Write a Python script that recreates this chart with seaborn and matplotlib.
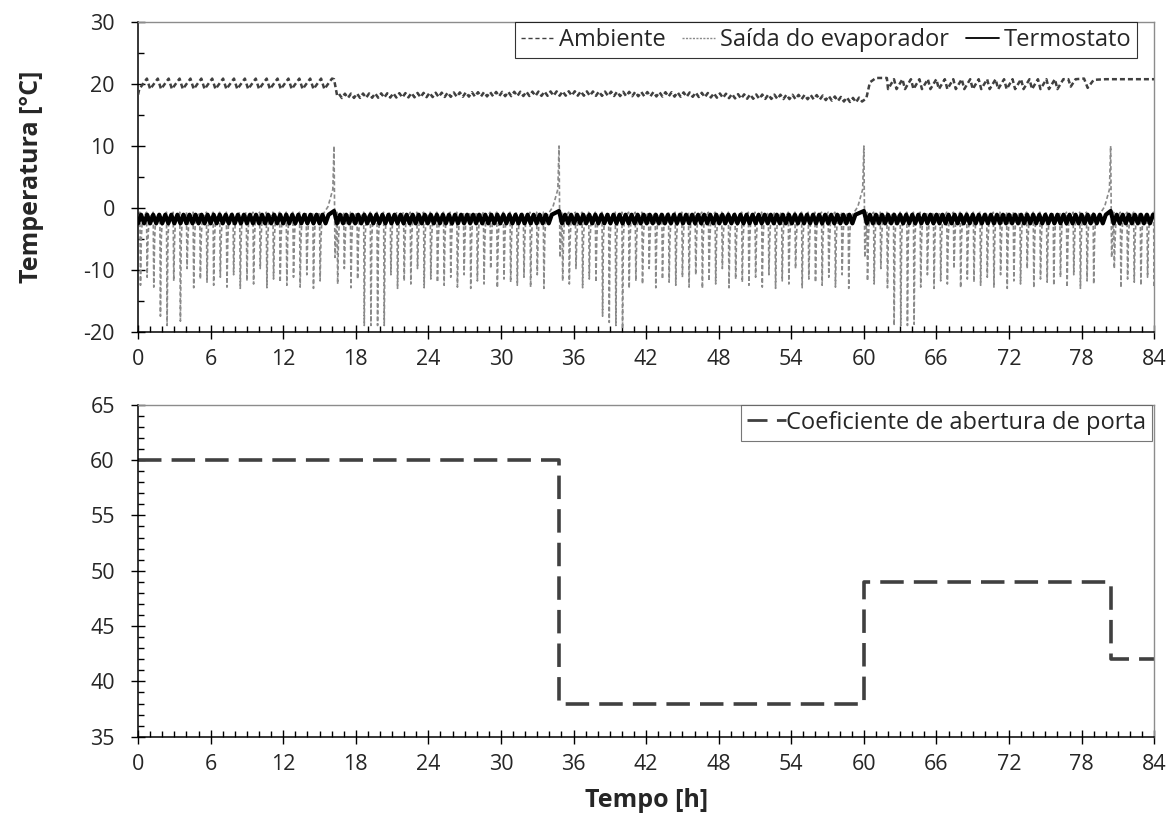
import numpy as np
import pandas as pd
import matplotlib
matplotlib.use("Agg")
import matplotlib.pyplot as plt
import seaborn as sns
from matplotlib.ticker import MultipleLocator
from matplotlib.lines import Line2D

# ---------------- data ----------------
# defrost events (h) -> evaporator spike / thermostat bump
defrost_h = [16.2, 34.8, 60.0, 80.4]

# Termostato: triangle oscillation between these levels
thermo_period_h = 0.5
thermo_high = -1.1
thermo_low = -2.5
thermo_defrost_peak = -0.5

# Saída do evaporador: each compressor cycle dips from top to a minimum
evap_period_h = 0.55
evap_top = -0.7
evap_cycle_minima = [-12.5, -11.2, -12.8, -10.8, -13.0, -11.8, -12.3, -9.8, -12.9, -11.5, -12.0]
evap_deep_times = [2.0, 2.6, 3.5, 18.9, 19.4, 19.9, 20.4, 38.4, 38.9, 39.4, 39.9, 62.6, 63.1, 63.6, 64.1]
evap_deep_values = [-17.5, -19.0, -18.3, -19.0, -19.0, -19.0, -19.0, -17.5, -18.5, -19.0, -19.5, -19.0, -19.0, -19.0, -18.8]
evap_defrost_peak = 10.0

# Ambiente: sawtooth segments (start, end, period, low, high)
amb_saw_segments = [(0.1, 16.2, 0.9, 19.2, 20.9), (62.0, 76.6, 0.7, 19.2, 20.8)]
# Ambiente middle part: baseline levels and small oscillation
amb_mid_times = [16.6, 22.0, 30.0, 36.0, 46.0, 50.0, 56.0, 59.3, 60.1]
amb_mid_base = [18.1, 18.2, 18.4, 18.5, 18.3, 18.0, 17.9, 17.4, 17.6]
amb_mid_period_h = 0.5
amb_mid_amp = 0.35
# Ambiente transitions and end (explicit points)
amb_start_t = [0.0]
amb_start_v = [18.3]
amb_drop_t = [16.2, 16.45]
amb_drop_v = [20.8, 18.2]
amb_rise_t = [60.2, 60.5, 61.0, 61.9]
amb_rise_v = [17.7, 20.3, 21.0, 21.0]
amb_end_t = [76.9, 77.1, 77.5, 78.2, 78.5, 79.0, 80.0, 84.0]
amb_end_v = [20.8, 19.6, 20.8, 20.9, 19.4, 20.7, 20.8, 20.8]

# Coeficiente de abertura de porta (step)
door_t = [0.0, 34.8, 60.0, 80.4, 84.0]
door_v = [60, 38, 49, 42, 42]

# ---------------- build series from the read values ----------------
def segments_between(events, t_end=84.0, gap_before=0.0, gap_after=0.0):
    bounds = [0.0] + list(events) + [t_end]
    segs = []
    for i in range(len(bounds) - 1):
        a = bounds[i] + (gap_after if i > 0 else 0.0)
        b = bounds[i + 1] - (gap_before if i < len(bounds) - 2 else 0.0)
        segs.append((a, b))
    return segs

# Termostato
tt, tv = [], []
for a, b in segments_between(defrost_h, gap_before=0.5, gap_after=0.25):
    c = a
    while c < b:
        tt += [c, c + thermo_period_h / 2]
        tv += [thermo_low, thermo_high]
        c += thermo_period_h
    if b < 83.9:
        tt += [b + 0.5]
        tv += [thermo_defrost_peak]
therm = pd.DataFrame({"t": tt, "v": tv}).sort_values("t")

# Evaporador
et, ev = [0.0], [-1.0]
k = 0
for i, (a, b) in enumerate(segments_between(defrost_h, gap_before=1.0, gap_after=0.1)):
    c = a + 0.15
    while c < b:
        mn = evap_cycle_minima[k % len(evap_cycle_minima)]
        for dt_, dv_ in zip(evap_deep_times, evap_deep_values):
            if abs(dt_ - c) < evap_period_h / 2:
                mn = dv_
        et += [c, c + 0.05, c + 0.12, c + 0.2]
        ev += [evap_top, mn, -5.0, -1.8]
        c += evap_period_h
        k += 1
    if i < len(defrost_h):
        d = defrost_h[i]
        et += [d - 0.9, d - 0.5, d - 0.1, d, d + 0.08]
        ev += [-1.0, 0.2, 3.0, evap_defrost_peak, -8.0]
evap = pd.DataFrame({"t": et, "v": ev}).sort_values("t")

# Ambiente
at, av = list(amb_start_t), list(amb_start_v)
for (a, b, p, lo, hi) in amb_saw_segments:
    c = a
    while c < b:
        at += [c, c + 0.7 * p]
        av += [lo, hi]
        c += p
c = amb_mid_times[0]
sgn = 1
while c < amb_mid_times[-1]:
    at.append(c)
    av.append(np.interp(c, amb_mid_times, amb_mid_base) + sgn * amb_mid_amp)
    sgn = -sgn
    c += amb_mid_period_h / 2
at += amb_drop_t + amb_rise_t + amb_end_t
av += amb_drop_v + amb_rise_v + amb_end_v
amb = pd.DataFrame({"t": at, "v": av}).sort_values("t")

door = pd.DataFrame({"t": door_t, "v": door_v})

# ---------------- plotting ----------------
sns.set_style("ticks")
plt.rcParams["font.family"] = ["Open Sans", "DejaVu Sans"]
plt.rcParams["axes.unicode_minus"] = False

fig = plt.figure(figsize=(11.7, 8.25), dpi=100)
ax1 = fig.add_axes([0.118, 0.598, 0.8685, 0.375])
ax2 = fig.add_axes([0.118, 0.107, 0.8685, 0.4024])

sns.lineplot(data=evap, x="t", y="v", ax=ax1, estimator=None, sort=False,
             color="#8a8a8a", linewidth=1.2, linestyle=(0, (2.5, 1.5)), zorder=2)
sns.lineplot(data=amb, x="t", y="v", ax=ax1, estimator=None, sort=False,
             color="#404040", linewidth=1.8, linestyle=(0, (2.0, 1.2)), zorder=3)
sns.lineplot(data=therm, x="t", y="v", ax=ax1, estimator=None, sort=False,
             color="black", linewidth=3.0, zorder=4)

sns.lineplot(data=door, x="t", y="v", ax=ax2, estimator=None, sort=False,
             drawstyle="steps-post", color="#404040", linewidth=2.6,
             linestyle=(0, (6.5, 2.8)))

ax1.set_xlim(0, 84)
ax1.set_ylim(-20, 30)
ax2.set_xlim(0, 84)
ax2.set_ylim(35, 65)

for ax, ymaj, ymin in [(ax1, 10, 5), (ax2, 5, 1)]:
    ax.xaxis.set_major_locator(MultipleLocator(6))
    ax.xaxis.set_minor_locator(MultipleLocator(1))
    ax.yaxis.set_major_locator(MultipleLocator(ymaj))
    ax.yaxis.set_minor_locator(MultipleLocator(ymin))
    ax.tick_params(which="major", direction="inout", length=9.5, width=1.0,
                   labelsize=15.5, color="black")
    ax.tick_params(axis="x", which="major", pad=8)
    ax.tick_params(axis="y", which="major", pad=12)
    ax.tick_params(which="minor", direction="in", length=4.5, width=1.0, color="black")
    for s in ["left", "bottom"]:
        ax.spines[s].set_color("black")
        ax.spines[s].set_linewidth(1.1)
    for s in ["top", "right"]:
        ax.spines[s].set_color("#8c8c8c")
        ax.spines[s].set_linewidth(1.0)
    ax.set_xlabel("")
    ax.set_ylabel("")

ax1.set_ylabel("Temperatura [°C]", fontsize=18, fontweight="bold", labelpad=28)
ax2.set_xlabel("Tempo [h]", fontsize=18, fontweight="bold", labelpad=9)

h1 = [Line2D([], [], color="#404040", lw=1.0, linestyle=(0, (3, 2))),
      Line2D([], [], color="#8a8a8a", lw=1.0, linestyle=(0, (1.5, 1))),
      Line2D([], [], color="black", lw=1.3)]
leg1 = ax1.legend(h1, ["Ambiente", "Saída do evaporador", "Termostato"], ncol=3,
                  loc="upper right", bbox_to_anchor=(0.983, 1.0), borderaxespad=0.0,
                  fontsize=17, frameon=True, fancybox=False, handlelength=1.4,
                  handletextpad=0.2, columnspacing=0.7, borderpad=0.25)
leg1.get_frame().set_edgecolor("black")
leg1.get_frame().set_linewidth(0.8)

h2 = [Line2D([], [], color="#404040", lw=2.0, linestyle=(0, (7.2, 3.4)))]
leg2 = ax2.legend(h2, ["Coeficiente de abertura de porta"], loc="upper right",
                  bbox_to_anchor=(0.998, 1.0), borderaxespad=0.0, fontsize=17,
                  frameon=True, fancybox=False, handlelength=1.65, handletextpad=0.0,
                  borderpad=0.25)
leg2.get_frame().set_edgecolor("#555555")
leg2.get_frame().set_linewidth(0.8)

fig.savefig("out.png", dpi=100)
